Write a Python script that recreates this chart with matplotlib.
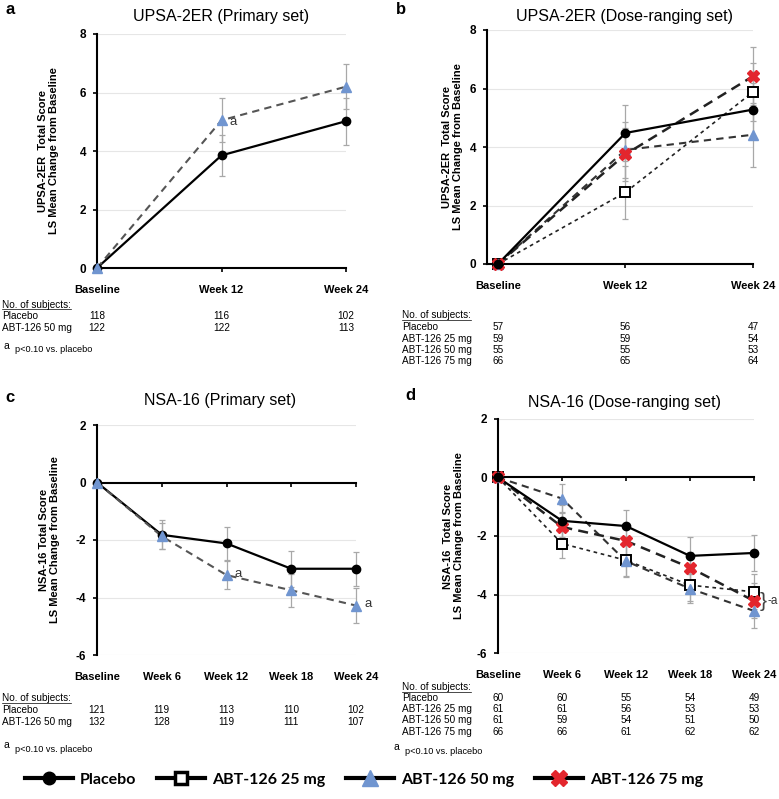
import matplotlib
matplotlib.use("Agg")
import matplotlib.pyplot as plt
from matplotlib.lines import Line2D
import matplotlib.transforms as mtransforms

plt.rcParams['font.family'] = ['Liberation Sans', 'DejaVu Sans']

W, H = 779, 799

# categories
weeks_ab = ["Baseline", "Week 12", "Week 24"]
weeks_cd = ["Baseline", "Week 6", "Week 12", "Week 18", "Week 24"]

# panel a: UPSA-2ER primary set
upsa_pri_placebo = [0, 3.85, 5.02]
upsa_pri_placebo_se = [0, 0.70, 0.80]
upsa_pri_abt50 = [0, 5.05, 6.20]
upsa_pri_abt50_se = [0, 0.75, 0.78]

# panel b: UPSA-2ER dose-ranging set
upsa_dose_placebo = [0, 4.48, 5.28]
upsa_dose_placebo_se = [0, 0.95, 0.90]
upsa_dose_abt25 = [0, 2.45, 5.88]
upsa_dose_abt25_se = [0, 0.90, 1.00]
upsa_dose_abt50 = [0, 3.90, 4.42]
upsa_dose_abt50_se = [0, 0.95, 1.10]
upsa_dose_abt75 = [0, 3.75, 6.42]
upsa_dose_abt75_se = [0, 0.90, 1.00]

# panel c: NSA-16 primary set
nsa_pri_placebo = [0, -1.82, -2.12, -3.00, -3.00]
nsa_pri_placebo_se = [0, 0.50, 0.57, 0.62, 0.60]
nsa_pri_abt50 = [0, -1.87, -3.22, -3.75, -4.28]
nsa_pri_abt50_se = [0, 0.45, 0.50, 0.58, 0.60]

# panel d: NSA-16 dose-ranging set
nsa_dose_placebo = [0, -1.48, -1.66, -2.68, -2.58]
nsa_dose_placebo_se = [0, 0.55, 0.55, 0.63, 0.60]
nsa_dose_abt25 = [0, -2.26, -2.83, -3.68, -3.91]
nsa_dose_abt25_se = [0, 0.50, 0.55, 0.55, 0.60]
nsa_dose_abt50 = [0, -0.72, -2.86, -3.80, -4.56]
nsa_dose_abt50_se = [0, 0.50, 0.55, 0.50, 0.60]
nsa_dose_abt75 = [0, -1.69, -2.17, -3.08, -4.22]
nsa_dose_abt75_se = [0, 0.50, 0.50, 0.55, 0.60]

# number of subjects
n_rows_2 = ["Placebo", "ABT-126 50 mg"]
n_rows_4 = ["Placebo", "ABT-126 25 mg", "ABT-126 50 mg", "ABT-126 75 mg"]
n_a = [[118, 116, 102], [122, 122, 113]]
n_b = [[57, 56, 47], [59, 59, 54], [55, 55, 53], [66, 65, 64]]
n_c = [[121, 119, 113, 110, 102], [132, 128, 119, 111, 107]]
n_d = [[60, 60, 55, 54, 49], [61, 61, 56, 53, 53], [61, 59, 54, 51, 50], [66, 66, 61, 62, 62]]

BLUE = "#7095d0"
RED = "#e3262d"
GREY = "#a8a8a8"

styles = {
    "placebo": dict(color="black", ls="-", lw=1.6, marker="o", ms=6, mfc="black", mec="black"),
    "abt25": dict(color="#222222", ls=(0, (2.2, 2.2)), lw=1.2, marker="s", ms=6.5, mfc="white", mec="black", mew=1.4),
    "abt50": dict(color="#333333", ls=(0, (3.5, 2.5)), lw=1.5, marker="^", ms=7.5, mfc=BLUE, mec=BLUE),
    "abt75": dict(color="#222222", ls=(0, (4, 2.5)), lw=1.8, marker="X", ms=8, mfc=RED, mec=RED),
}

TXT = 7.2


def px_rect(left, top, right, bottom):
    return [left / W, 1 - bottom / H, (right - left) / W, (bottom - top) / H]


fig = plt.figure(figsize=(W / 100, H / 100), dpi=100)


def make_axes(rect, cats, ylim, yticks, xlim, zero_line):
    ax = fig.add_axes(px_rect(*rect))
    ax.set_xlim(*xlim)
    ax.set_ylim(*ylim)
    ax.set_yticks(yticks)
    ax.set_yticklabels([str(t) for t in yticks], fontweight="bold", fontsize=8.5)
    ax.tick_params(axis="y", length=3, width=1.2, pad=5)
    for t in yticks:
        if t != 0 or not zero_line:
            ax.axhline(t, color="#e6e6e6", lw=0.8, zorder=0)
    ax.spines["top"].set_visible(False)
    ax.spines["right"].set_visible(False)
    ax.spines["left"].set_linewidth(1.5)
    ax.spines["bottom"].set_linewidth(1.5)
    ax.spines["bottom"].set_position(("data", 0))
    ax.set_xticks(range(len(cats)))
    ax.tick_params(axis="x", length=3, width=1.2, labelbottom=False)
    sec = ax.secondary_xaxis(0)
    sec.set_xticks(range(len(cats)), cats, fontweight="bold", fontsize=8)
    sec.spines["bottom"].set_visible(False)
    sec.tick_params(length=0, pad=12)
    return ax


def series(ax, vals, se, key, color=None, z=3):
    st = dict(styles[key])
    if color is not None:
        st["color"] = color
    x = list(range(len(vals)))
    ax.errorbar(x[1:], vals[1:], yerr=se[1:], fmt="none", ecolor=GREY, elinewidth=0.9,
                capsize=2, capthick=0.9, zorder=2, clip_on=False)
    ax.plot(x, vals, color=st["color"], ls=st["ls"], lw=st["lw"], zorder=z, clip_on=False)
    ax.plot(x, vals, ls="none", marker=st["marker"], ms=st["ms"], mfc=st["mfc"],
            mec=st["mec"], mew=st.get("mew", 1), zorder=z + 2, clip_on=False)


def ylabel(ax, first, offset_px):
    bb = ax.get_position()
    ax.set_ylabel(first + "\nLS Mean Change from Baseline", fontweight="bold", fontsize=8,
                  linespacing=1.1)
    ax.yaxis.set_label_coords(-offset_px / (bb.width * W), 0.5)


def table(ax, rows, nums, label_x, header_y, row_ys):
    tr = mtransforms.blended_transform_factory(ax.transData, fig.transFigure)
    hdr = fig.text(label_x / W, 1 - header_y / H, "No. of subjects:", fontsize=TXT, va="center")
    underline_targets.append((hdr, header_y))
    for name, counts, y in zip(rows, nums, row_ys):
        fig.text(label_x / W, 1 - y / H, name, fontsize=TXT, va="center")
        for i, c in enumerate(counts):
            ax.text(i, 1 - y / H, str(c), transform=tr, fontsize=TXT, ha="center", va="center")


def footnote(x, y):
    fig.text(x / W, 1 - (y - 3) / H, "a", fontsize=7.5, va="center")
    fig.text((x + 12) / W, 1 - (y + 1) / H, "p<0.10 vs. placebo", fontsize=6.6, va="center")


underline_targets = []

# ---- panel a
ax_a = make_axes((97, 34, 346, 268), weeks_ab, (0, 8), [0, 2, 4, 6, 8], (0, 2), False)
series(ax_a, upsa_pri_placebo, upsa_pri_placebo_se, "placebo")
series(ax_a, upsa_pri_abt50, upsa_pri_abt50_se, "abt50", color="#555555")
ax_a.annotate("a", (1, upsa_pri_abt50[1]), xytext=(6, -1), textcoords="offset points",
              fontsize=9.5, va="center", color="#333333")
ylabel(ax_a, "UPSA-2ER  Total Score", 38)
table(ax_a, n_rows_2, n_a, 2, 305, [316, 328])
footnote(3, 349)

# ---- panel b
ax_b = make_axes((487, 30, 753, 264), weeks_ab, (0, 8), [0, 2, 4, 6, 8], (-0.086, 2), False)
series(ax_b, upsa_dose_abt25, upsa_dose_abt25_se, "abt25")
series(ax_b, upsa_dose_abt50, upsa_dose_abt50_se, "abt50")
series(ax_b, upsa_dose_abt75, upsa_dose_abt75_se, "abt75")
series(ax_b, upsa_dose_placebo, upsa_dose_placebo_se, "placebo", z=4)
ylabel(ax_b, "UPSA-2ER  Total Score", 24)
table(ax_b, n_rows_4, n_b, 402, 315, [327, 339, 350, 361])

# ---- panel c
ax_c = make_axes((97, 425, 356, 655), weeks_cd, (-6, 2), [-6, -4, -2, 0, 2], (0, 4), True)
series(ax_c, nsa_pri_placebo, nsa_pri_placebo_se, "placebo")
series(ax_c, nsa_pri_abt50, nsa_pri_abt50_se, "abt50", color="#555555")
for i in (2, 4):
    ax_c.annotate("a", (i, nsa_pri_abt50[i]), xytext=(6, 1), textcoords="offset points",
                  fontsize=9.5, va="center", color="#333333")
ylabel(ax_c, "NSA-16 Total Score", 37)
table(ax_c, n_rows_2, n_c, 2, 698, [710, 722])
footnote(3, 748)

# ---- panel d
ax_d = make_axes((498, 419, 754, 653), weeks_cd, (-6, 2), [-6, -4, -2, 0, 2], (0, 4), True)
series(ax_d, nsa_dose_abt25, nsa_dose_abt25_se, "abt25")
series(ax_d, nsa_dose_abt50, nsa_dose_abt50_se, "abt50")
series(ax_d, nsa_dose_abt75, nsa_dose_abt75_se, "abt75")
series(ax_d, nsa_dose_placebo, nsa_dose_placebo_se, "placebo", z=4)
bracket_mid = (nsa_dose_abt25[4] + nsa_dose_abt50[4]) / 2
ax_d.annotate("}", (4, bracket_mid), xytext=(4, 0), textcoords="offset points",
              fontsize=15, va="center", color="#444444")
ax_d.annotate("-a", (4, bracket_mid), xytext=(9.5, 0), textcoords="offset points",
              fontsize=8.5, va="center", color="#333333")
ylabel(ax_d, "NSA-16  Total Score", 34)
table(ax_d, n_rows_4, n_d, 402, 687, [698, 709, 720, 732])
footnote(393, 750)

# titles and panel letters
fig.text(221 / W, 1 - 16 / H, "UPSA-2ER (Primary set)", fontsize=11.5, ha="center", va="center")
fig.text(625 / W, 1 - 16 / H, "UPSA-2ER (Dose-ranging set)", fontsize=11.5, ha="center", va="center")
fig.text(220 / W, 1 - 400 / H, "NSA-16 (Primary set)", fontsize=11.5, ha="center", va="center")
fig.text(624 / W, 1 - 402 / H, "NSA-16 (Dose-ranging set)", fontsize=11.5, ha="center", va="center")
for letter, x, y in [("a", 5, 10), ("b", 396, 10), ("c", 5, 397), ("d", 405, 395)]:
    fig.text(x / W, 1 - y / H, letter, fontsize=12, fontweight="bold", ha="left", va="center")

# legend
handles = [
    Line2D([], [], color="black", lw=3, marker="o", ms=9, mfc="black", mec="black"),
    Line2D([], [], color="black", lw=3, marker="s", ms=9, mfc="white", mec="black", mew=2.5),
    Line2D([], [], color="black", lw=3, marker="^", ms=11, mfc=BLUE, mec=BLUE),
    Line2D([], [], color="black", lw=3, marker="X", ms=11, mfc=RED, mec=RED),
]
labels = ["Placebo", "ABT-126 25 mg", "ABT-126 50 mg", "ABT-126 75 mg"]
fig.legend(handles, labels, loc="center left", bbox_to_anchor=(17 / W, 1 - 780 / H), ncol=4,
           frameon=False, borderpad=0, handlelength=3.0, handletextpad=0.45, columnspacing=1.3,
           prop={"family": "Lato", "size": 11.5, "weight": "bold"})

# underline the "No. of subjects:" headers
fig.canvas.draw()
renderer = fig.canvas.get_renderer()
for txt, y in underline_targets:
    bb = txt.get_window_extent(renderer)
    yy = 1 - (y + 4.5) / H
    fig.add_artist(Line2D([bb.x0 / W, bb.x1 / W], [yy, yy], color="black", lw=0.5,
                          transform=fig.transFigure))

fig.savefig("out.png", dpi=100)
